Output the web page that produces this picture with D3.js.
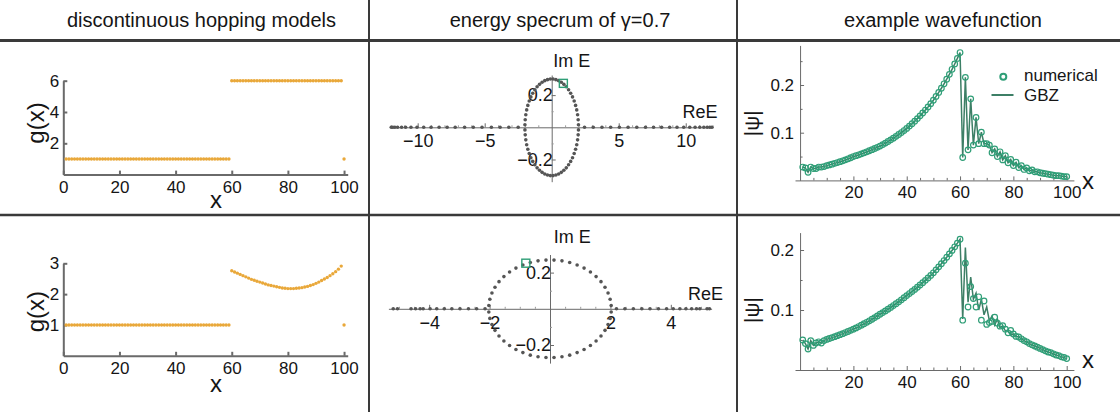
<!DOCTYPE html>
<html>
<head>
<meta charset="utf-8">
<script src="https://cdn.jsdelivr.net/npm/d3@7"></script>
<style>
  html, body { margin: 0; padding: 0; background: #fff; }
  svg { display: block; font-family: "Liberation Sans", Arial, sans-serif; }
</style>
</head>
<body>
<svg id="fig" width="1120" height="412"></svg>
<script>
// ---------- column headings ----------
const headings = ["discontinuous hopping models", "energy specrum of \u03b3=0.7", "example wavefunction"];

// ---------- hopping profiles g(x), sites 1..100 ----------
const sites = d3.range(1, 101);
const hopStep = [
  1,1,1,1,1,1,1,1,1,1, 1,1,1,1,1,1,1,1,1,1, 1,1,1,1,1,1,1,1,1,1,
  1,1,1,1,1,1,1,1,1,1, 1,1,1,1,1,1,1,1,1,1, 1,1,1,1,1,1,1,1,1,
  6,6,6,6,6,6,6,6,6,6, 6,6,6,6,6,6,6,6,6,6, 6,6,6,6,6,6,6,6,6,6,
  6,6,6,6,6,6,6,6,6,6, 1
];
const hopCurve = [
  1,1,1,1,1,1,1,1,1,1, 1,1,1,1,1,1,1,1,1,1, 1,1,1,1,1,1,1,1,1,1,
  1,1,1,1,1,1,1,1,1,1, 1,1,1,1,1,1,1,1,1,1, 1,1,1,1,1,1,1,1,1,
  2.76,2.72,2.68,2.64,2.60,2.56,2.52,2.48,2.45,2.42,
  2.39,2.36,2.33,2.30,2.28,2.26,2.24,2.22,2.20,2.19,
  2.18,2.18,2.18,2.19,2.20,2.21,2.23,2.25,2.28,2.31,
  2.35,2.39,2.44,2.49,2.54,2.60,2.66,2.73,2.81,2.91,
  1
];

// ---------- spectra (Re E, Im E) ----------
const specTopRe = [
  1.997,1.975,1.932,1.867,1.782,1.677,1.554,1.414,1.259,1.089,0.908,0.717,0.518,0.313,0.105,
  -0.105,-0.313,-0.518,-0.717,-0.908,-1.089,-1.259,-1.414,-1.554,-1.677,-1.782,-1.867,-1.932,-1.975,-1.997,
  -1.997,-1.975,-1.932,-1.867,-1.782,-1.677,-1.554,-1.414,-1.259,-1.089,-0.908,-0.717,-0.518,-0.313,-0.105,
  0.105,0.313,0.518,0.717,0.908,1.089,1.259,1.414,1.554,1.677,1.782,1.867,1.932,1.975,1.997,
  2.45,3.1,3.75,4.4,5.05,5.7,6.35,7.0,7.6,8.2,8.8,9.35,9.85,10.3,10.7,11.05,11.35,11.6,11.8,11.95,
  -2.5,-3.2,-3.85,-4.5,-5.2,-5.85,-6.5,-7.2,-7.8,-8.4,-9.0,-9.55,-10.05,-10.5,-10.9,-11.2,-11.5,-11.7,-11.85,-11.97
];
const specTopIm = [
  0.016,0.047,0.078,0.108,0.136,0.163,0.189,0.212,0.233,0.252,0.267,0.280,0.290,0.296,0.300,
  0.300,0.296,0.290,0.280,0.267,0.252,0.233,0.212,0.189,0.163,0.136,0.108,0.078,0.047,0.016,
  -0.016,-0.047,-0.078,-0.108,-0.136,-0.163,-0.189,-0.212,-0.233,-0.252,-0.267,-0.280,-0.290,-0.296,-0.300,
  -0.300,-0.296,-0.290,-0.280,-0.267,-0.252,-0.233,-0.212,-0.189,-0.163,-0.136,-0.108,-0.078,-0.047,-0.016,
  0,0,0,0,0,0,0,0,0,0,0,0,0,0,0,0,0,0,0,0,
  0,0,0,0,0,0,0,0,0,0,0,0,0,0,0,0,0,0,0,0
];
const specBotRe = [
  2.026,1.991,1.922,1.821,1.688,1.526,1.338,1.128,0.898,0.652,0.396,0.133,
  -0.133,-0.396,-0.652,-0.898,-1.128,-1.338,-1.526,-1.688,-1.821,-1.922,-1.991,-2.026,
  -2.026,-1.991,-1.922,-1.821,-1.688,-1.526,-1.338,-1.128,-0.898,-0.652,-0.396,-0.133,
  0.133,0.396,0.652,0.898,1.128,1.338,1.526,1.688,1.821,1.922,1.991,2.026,
  2.2,2.48,2.76,3.04,3.31,3.59,3.86,4.08,4.3,4.5,4.69,4.85,4.96,5.2,5.28,
  -2.15,-2.43,-2.7,-2.98,-3.25,-3.5,-3.75,-3.97,-4.2,-4.3,-4.45,-4.6,-5.05,-5.19
];
const specBotIm = [
  0.018,0.053,0.087,0.119,0.150,0.178,0.203,0.225,0.242,0.256,0.265,0.269,
  0.269,0.265,0.256,0.242,0.225,0.203,0.178,0.150,0.119,0.087,0.053,0.018,
  -0.018,-0.053,-0.087,-0.119,-0.150,-0.178,-0.203,-0.225,-0.242,-0.256,-0.265,-0.269,
  -0.269,-0.265,-0.256,-0.242,-0.225,-0.203,-0.178,-0.150,-0.119,-0.087,-0.053,-0.018,
  0,0,0,0,0,0,0,0,0,0,0,0,0,0,0,
  0,0,0,0,0,0,0,0,0,0,0,0,0,0
];
// eigenvalue whose wavefunction is shown
const pickedTop = [0.87, 0.273];
const pickedBot = [-0.80, 0.252];

// ---------- wavefunction |psi(x)|, sites 1..100 ----------
const psiNumTop = [
  .028,.026,.017,.028,.025,.025,.028,.028,.029,.031,
  .0325,.034,.0357,.0374,.0392,.0411,.0431,.0453,.0475,.050,
  .0518,.0537,.0557,.0578,.060,.0622,.0645,.0669,.0694,.072,
  .0751,.0782,.0815,.085,.0886,.0923,.0962,.1003,.1045,.109,
  .1138,.1188,.1241,.1296,.1353,.1413,.1475,.154,.1609,.168,
  .176,.1844,.1932,.2025,.2121,.2223,.2329,.244,.2557,.268,
  .048,.216,.064,.171,.074,.132,.077,.101,.077,.077,
  .074,.058,.066,.050,.060,.043,.052,.037,.044,.031,
  .038,.027,.031,.023,.026,.020,.022,.018,.018,.016,
  .015,.014,.013,.012,.011,.010,.010,.009,.008,.008
];
const psiGbzTop = [
  .028,.026,.017,.028,.025,.025,.028,.028,.029,.031,
  .0325,.034,.0357,.0374,.0392,.0411,.0431,.0453,.0475,.050,
  .0518,.0537,.0557,.0578,.060,.0622,.0645,.0669,.0694,.072,
  .0751,.0782,.0815,.085,.0886,.0923,.0962,.1003,.1045,.109,
  .1138,.1188,.1241,.1296,.1353,.1413,.1475,.154,.1609,.168,
  .176,.1844,.1932,.2025,.2121,.2223,.2329,.244,.2557,.268,
  .048,.216,.064,.171,.074,.132,.077,.101,.077,.077,
  .074,.058,.066,.050,.060,.043,.052,.037,.044,.031,
  .038,.027,.031,.023,.026,.020,.022,.018,.018,.016,
  .015,.014,.013,.012,.011,.010,.010,.009,.008,.008
];
const psiNumBot = [
  .050,.044,.035,.049,.041,.045,.047,.045,.049,.051,
  .0525,.054,.0556,.0572,.0589,.0606,.0624,.0642,.0661,.068,
  .0702,.0724,.0747,.0771,.0795,.082,.0846,.0873,.0901,.093,
  .0957,.0985,.1014,.1043,.1074,.1105,.1137,.117,.1205,.124,
  .1274,.1308,.1343,.1379,.1417,.1455,.1494,.1534,.1576,.162,
  .1669,.1719,.1771,.1824,.1879,.1935,.1993,.2053,.2115,.218,
  .083,.178,.105,.139,.119,.105,.122,.083,.115,.076,
  .079,.081,.088,.078,.073,.074,.068,.062,.066,.060,
  .056,.055,.052,.049,.047,.044,.042,.040,.038,.036,
  .034,.032,.030,.029,.027,.025,.024,.022,.021,.019
];
const psiGbzBot = [
  .050,.044,.035,.049,.041,.045,.047,.045,.049,.051,
  .0525,.054,.0556,.0572,.0589,.0606,.0624,.0642,.0661,.068,
  .0702,.0724,.0747,.0771,.0795,.082,.0846,.0873,.0901,.093,
  .0957,.0985,.1014,.1043,.1074,.1105,.1137,.117,.1205,.124,
  .1274,.1308,.1343,.1379,.1417,.1455,.1494,.1534,.1576,.162,
  .1669,.1719,.1771,.1824,.1879,.1935,.1993,.2053,.2115,.218,
  .085,.204,.113,.155,.118,.128,.100,.118,.092,.105,
  .082,.090,.075,.085,.070,.074,.065,.066,.058,.060,
  .056,.055,.052,.049,.047,.044,.042,.040,.038,.036,
  .034,.032,.030,.029,.027,.025,.024,.022,.021,.019
];

// ---------- tick values ----------
const hopXTicks = [0, 20, 40, 60, 80, 100];
const hopYTicksTop = [2, 4, 6];
const hopYTicksBot = [1, 2, 3];
const specXTicksTop = [-10, -5, 5, 10];
const specXTicksBot = [-4, -2, 2, 4];
const specYTicks = [-0.2, 0.2];
const psiXTicks = [20, 40, 60, 80, 100];
const psiYTicksTop = [0.1, 0.2];
const psiYTicksBot = [0.1, 0.2];

// ---------- styling ----------
const ORANGE = "#e9a83a";
const DOT = "#555555";
const GREEN = "#2f9e77";
const GREEN_LINE = "#3d7f66";
const AXIS = "#6a6a6a";
const TEXT = "#151515";
const RULE = "#3a3a3a";

const svg = d3.select("#fig");

// grid rules separating the panels
svg.append("line").attr("x1", 0).attr("x2", 1120).attr("y1", 40.5).attr("y2", 40.5)
  .attr("stroke", RULE).attr("stroke-width", 3);
svg.append("line").attr("x1", 0).attr("x2", 1120).attr("y1", 215).attr("y2", 215)
  .attr("stroke", RULE).attr("stroke-width", 2.5);
[369, 737].forEach(x => svg.append("line").attr("x1", x).attr("x2", x)
  .attr("y1", 0).attr("y2", 412).attr("stroke", RULE).attr("stroke-width", 2));

// headings
[[201.5, headings[0]], [560, headings[1]], [943, headings[2]]].forEach(([x, t]) =>
  svg.append("text").attr("x", x).attr("y", 27).attr("text-anchor", "middle")
    .attr("font-size", 20).attr("fill", TEXT).text(t));

function styleAxis(sel, width, fontSize) {
  sel.select(".domain").attr("stroke", AXIS).attr("stroke-width", width);
  sel.selectAll(".tick line").attr("stroke", AXIS).attr("stroke-width", width);
  sel.selectAll(".tick text").attr("fill", TEXT).attr("font-size", fontSize)
    .attr("font-family", '"Liberation Sans", Arial, sans-serif');
}

// ---------- hopping panels ----------
function hopPanel(vals, yMax, yTicks, y0px, yTopPx) {
  const x = d3.scaleLinear().domain([0, 101.3]).range([63.3, 347.7]);
  const y = d3.scaleLinear().domain([0, yMax]).range([y0px, yTopPx]);
  const g = svg.append("g");
  const xa = g.append("g").attr("transform", `translate(0,${y0px})`)
    .call(d3.axisBottom(x).tickValues(hopXTicks).tickSize(-4).tickSizeOuter(0).tickPadding(6)
      .tickFormat(d3.format("d")));
  styleAxis(xa, 2, 17);
  const ya = g.append("g").attr("transform", `translate(${x(0)},0)`)
    .call(d3.axisLeft(y).tickValues(yTicks).tickSize(-4).tickSizeOuter(0).tickPadding(4)
      .tickFormat(d3.format("d")));
  styleAxis(ya, 2, 17);
  g.append("g").selectAll("circle").data(sites).join("circle")
    .attr("cx", d => x(d)).attr("cy", (d, i) => y(vals[i])).attr("r", 1.7)
    .attr("fill", ORANGE);
  return { x, y, g };
}
const h1 = hopPanel(hopStep, 6, hopYTicksTop, 174.6, 80.7);
const h2 = hopPanel(hopCurve, 3, hopYTicksBot, 355.8, 263.3);
// axis titles
[[h1, 123, 208], [h2, 311.7, 392]].forEach(([p, yc, xb]) => {
  p.g.append("text").attr("transform", `translate(43.5,${yc}) rotate(-90)`)
    .attr("text-anchor", "middle").attr("font-size", 24).attr("fill", TEXT).text("g(x)");
  p.g.append("text").attr("x", 216).attr("y", xb).attr("text-anchor", "middle")
    .attr("font-size", 24).attr("fill", TEXT).text("x");
});

// ---------- spectrum panels ----------
function specPanel(re, im, picked, xDom, xRange, yDom, yRange, xTicks, minorStep, labels) {
  const x = d3.scaleLinear().domain(xDom).range(xRange);
  const y = d3.scaleLinear().domain(yDom).range(yRange);
  const g = svg.append("g");
  const minorX = d3.range(Math.ceil(xDom[0] / minorStep) * minorStep, xDom[1], minorStep)
    .filter(v => Math.abs(v) > 1e-9 && !xTicks.includes(v));
  const mx = g.append("g").attr("transform", `translate(0,${y(0)})`)
    .call(d3.axisBottom(x).tickValues(minorX).tickSize(-2).tickSizeOuter(0).tickFormat(""));
  styleAxis(mx, 1, 17);
  mx.selectAll(".tick line").attr("stroke", "#9a9a9a");
  const xa = g.append("g").attr("transform", `translate(0,${y(0)})`)
    .call(d3.axisBottom(x).tickValues(xTicks).tickSize(-4).tickSizeOuter(0).tickPadding(7));
  styleAxis(xa, 1, 18);
  xa.select(".domain").remove();
  const minorY = [-0.3, -0.1, 0.1, 0.3].filter(v => v > yDom[0] && v < yDom[1]);
  const my = g.append("g").attr("transform", `translate(${x(0)},0)`)
    .call(d3.axisLeft(y).tickValues(minorY).tickSize(-2).tickSizeOuter(0).tickFormat(""));
  styleAxis(my, 1, 17);
  my.selectAll(".tick line").attr("stroke", "#9a9a9a");
  const ya = g.append("g").attr("transform", `translate(${x(0)},0)`)
    .call(d3.axisLeft(y).tickValues(specYTicks).tickSize(-4).tickSizeOuter(0).tickPadding(-1)
      .tickFormat(d3.format(".1f")));
  styleAxis(ya, 1, 18);
  ya.select(".domain").remove();
  g.append("g").selectAll("circle").data(re).join("circle")
    .attr("cx", d => x(d)).attr("cy", (d, i) => y(im[i])).attr("r", 1.8).attr("fill", DOT);
  g.append("rect").attr("x", x(picked[0]) - 4).attr("y", y(picked[1]) - 4)
    .attr("width", 8).attr("height", 8).attr("fill", "none")
    .attr("stroke", GREEN).attr("stroke-width", 1.4);
  g.append("text").attr("x", labels.im[0]).attr("y", labels.im[1]).attr("text-anchor", "middle")
    .attr("font-size", 18).attr("fill", TEXT).text("Im E");
  g.append("text").attr("x", labels.re[0]).attr("y", labels.re[1]).attr("text-anchor", "middle")
    .attr("font-size", 18).attr("fill", TEXT).text("ReE");
}
specPanel(specTopRe, specTopIm, pickedTop, [-12.05, 12.05], [390.2, 713.2], [-0.338, 0.325],
  [181.7, 75], specXTicksTop, 1, { im: [571.7, 67], re: [700, 118] });
specPanel(specBotRe, specBotIm, pickedBot, [-5.35, 5.35], [388.4, 711.6], [-0.3, 0.3],
  [363.1, 254.5], specXTicksBot, 0.5, { im: [572.3, 243], re: [705.5, 300] });

// ---------- wavefunction panels ----------
function psiPanel(num, gbz, y0px, pxPerUnit, yMax, yTicks, xLabY, withLegend, psiLabY) {
  const x = d3.scaleLinear().domain([-1.9, 102.7]).range([795, 1073.9]);
  const y = d3.scaleLinear().domain([0, yMax]).range([y0px, y0px - yMax * pxPerUnit]);
  const g = svg.append("g");
  const mx = g.append("g").attr("transform", `translate(0,${y(0)})`)
    .call(d3.axisBottom(x).tickValues(d3.range(5, 101, 5).filter(v => v % 20)).tickSize(-2.5)
      .tickSizeOuter(0).tickFormat(""));
  styleAxis(mx, 1, 17);
  const xa = g.append("g").attr("transform", `translate(0,${y(0)})`)
    .call(d3.axisBottom(x).tickValues(psiXTicks).tickSize(-4).tickSizeOuter(0).tickPadding(6));
  styleAxis(xa, 1, 17);
  xa.select(".domain").remove();
  const minorY = [0.05, 0.15, 0.25].filter(v => v < yMax);
  const ya0 = g.append("g").attr("transform", `translate(${x(0)},0)`)
    .call(d3.axisLeft(y).tickValues(minorY).tickSize(-2.5).tickSizeOuter(0).tickFormat(""));
  styleAxis(ya0, 1, 17);
  const ya = g.append("g").attr("transform", `translate(${x(0)},0)`)
    .call(d3.axisLeft(y).tickValues(yTicks).tickSize(-4).tickSizeOuter(0).tickPadding(6)
      .tickFormat(d3.format(".1f")));
  styleAxis(ya, 1, 17);
  ya.select(".domain").remove();
  const line = d3.line().x(d => x(d)).y((d, i) => y(gbz[i]));
  g.append("path").datum(sites).attr("d", line).attr("fill", "none")
    .attr("stroke", GREEN_LINE).attr("stroke-width", 1.5);
  g.append("g").selectAll("circle").data(sites).join("circle")
    .attr("cx", d => x(d)).attr("cy", (d, i) => y(num[i])).attr("r", 2.8)
    .attr("fill", "none").attr("stroke", GREEN).attr("stroke-width", 1.2);
  g.append("text").attr("transform", `translate(759,${psiLabY}) rotate(-90)`)
    .attr("text-anchor", "middle").attr("font-size", 21).attr("fill", TEXT).text("|\u03c8|");
  g.append("text").attr("x", 1088).attr("y", xLabY).attr("text-anchor", "middle")
    .attr("font-size", 24).attr("fill", TEXT).text("x");
  if (withLegend) {
    g.append("circle").attr("cx", 1003.3).attr("cy", 76.7).attr("r", 3)
      .attr("fill", "none").attr("stroke", GREEN).attr("stroke-width", 2);
    g.append("text").attr("x", 1024).attr("y", 80.5).attr("font-size", 17).attr("fill", TEXT).text("numerical");
    g.append("line").attr("x1", 991.5).attr("x2", 1013.5).attr("y1", 95).attr("y2", 95)
      .attr("stroke", GREEN_LINE).attr("stroke-width", 2);
    g.append("text").attr("x", 1024).attr("y", 101).attr("font-size", 17).attr("fill", TEXT).text("GBZ");
  }
}
psiPanel(psiNumTop, psiGbzTop, 180.4, 477, 0.283, psiYTicksTop, 189, true, 123.3);
psiPanel(psiNumBot, psiGbzBot, 370, 600, 0.229, psiYTicksBot, 367.5, false, 310);
</script>
</body>
</html>
